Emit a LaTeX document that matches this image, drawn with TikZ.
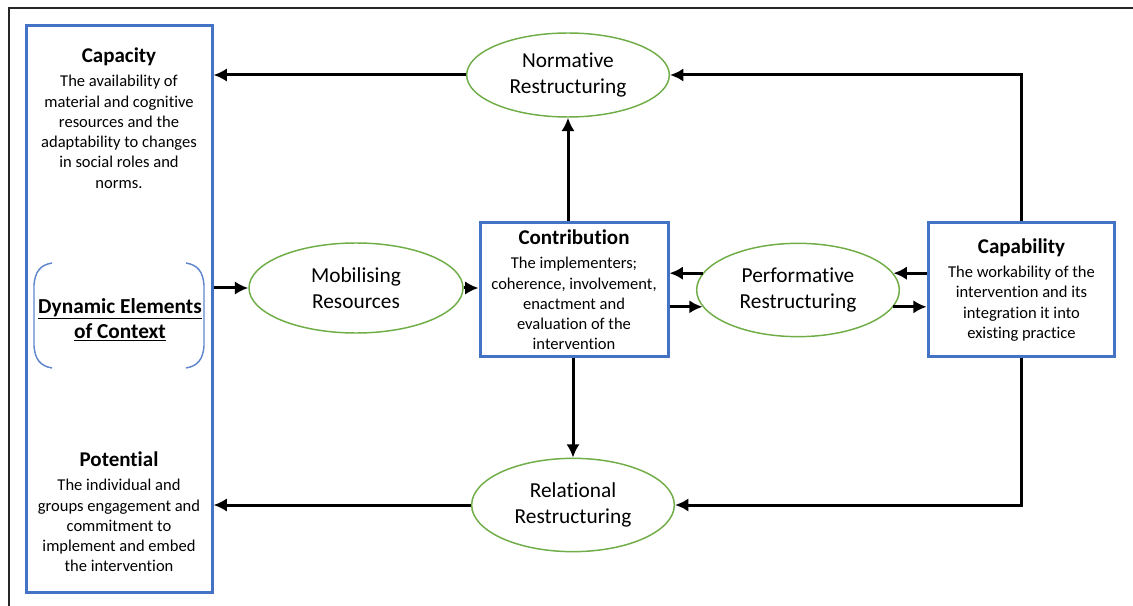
\documentclass[tikz,border=0pt]{standalone}
\usepackage{fontspec}
\setmainfont{Carlito}[Ligatures=NoCommon]
\usepackage{tikz}
\usetikzlibrary{shapes.geometric, arrows}
\usetikzlibrary{arrows.meta}
\definecolor{bordoblu}{HTML}{4472C4}
\definecolor{bordoverde}{HTML}{70AD47}
\newcommand{\titolo}{\fontsize{15.75}{18}\selectfont\bfseries}
\newcommand{\corpo}{\fontsize{12.4}{15.2}\selectfont}
\tikzstyle{costrutto} = [rectangle, draw=bordoblu, line width=2.25pt, align=center, inner sep=0pt, font=\corpo]
\tikzstyle{testo} = [align=center, inner sep=0pt, font=\corpo]
\tikzstyle{meccanismo} = [ellipse, draw=bordoverde, line width=1.1pt, align=center, inner sep=0pt, minimum width=152pt, minimum height=70pt, font=\fontsize{16}{19.5}\selectfont]
\tikzstyle{parentesi} = [draw=bordoblu!85, line width=1.1pt]
\tikzstyle{arrow} = [line width=2.25pt, -{Latex[length=10pt,width=10pt]}]

\begin{document}
\begin{tikzpicture}[x=0.75pt, y=-0.75pt]
				\useasboundingbox (0,0) rectangle (1133,606);
				\draw[line width=1.2pt, black!85] (1133,8) -- (9,8) -- (9,606);
				% left column
				\node (ctx) at (119,309) [costrutto, minimum width=139.5pt, minimum height=424.5pt] {};
				\node (capacita) at (119,118) [testo] {{\titolo Capacity}\\[3pt] The availability of\\ material and cognitive\\ resources and the\\ adaptability to changes\\ in social roles and\\ norms.};
				\node (dinamica) at (120,320) [testo, font=\fontsize{16}{19}\selectfont\bfseries] {\underline{Dynamic Elements}\\ \underline{of Context}};
				\node (potenziale) at (119,512) [testo] {{\titolo Potential}\\[3pt] The individual and\\ groups engagement and\\ commitment to\\ implement and embed\\ the intervention};
				\draw[parentesi] (52,263) .. controls (40,265) and (35,272) .. (34,285) -- (34,346) .. controls (35,359) and (40,366) .. (52,368);
				\draw[parentesi] (186,263) .. controls (198,265) and (203,272) .. (204,285) -- (204,346) .. controls (203,359) and (198,366) .. (186,368);
				% middle
				\node (mr) at (356,288) [meccanismo, minimum width=160.5pt, minimum height=67.5pt] {Mobilising\\ Resources};
				\node (cb) at (574,290) [costrutto, minimum width=141pt, minimum height=100.5pt] {{\titolo Contribution}\\[3pt] The implementers;\\ coherence, involvement,\\ enactment and\\ evaluation of the\\ intervention};
				\node (nr) at (568,75) [meccanismo, minimum height=63pt] {Normative\\ Restructuring};
				\node (rr) at (573,505) [meccanismo] {Relational\\ Restructuring};
				\node (pr) at (798,290) [meccanismo] {Performative\\ Restructuring};
				\node (cy) at (1021.5,290) [costrutto, minimum width=140pt, minimum height=100.5pt] {{\titolo Capability}\\[3pt] The workability of the\\ intervention and its\\ integration it into\\ existing practice};
				% connectors
				\draw[arrow] (ctx.east |- mr.west) -- (mr.west);
				\draw[arrow] (mr.east) -- (mr.east -| cb.west);
				\draw[arrow] (pr.170) -- (pr.170 -| cb.east);
				\draw[arrow] (cb.east |- pr.190) -- (pr.190);
				\draw[arrow] (cy.west |- pr.10) -- (pr.10);
				\draw[arrow] (pr.350) -- (pr.350 -| cy.west);
				\draw[arrow] (cb.north -| nr.south) -- (nr.south);
				\draw[arrow] (cb.south -| rr.north) -- (rr.north);
				\draw[arrow] (cy.north) |- (nr.east);
				\draw[arrow] (cy.south) |- (rr.east);
				\draw[arrow] (nr.west) -- (nr.west -| ctx.east);
				\draw[arrow] (rr.west) -- (rr.west -| ctx.east);
\end{tikzpicture}
\end{document}
